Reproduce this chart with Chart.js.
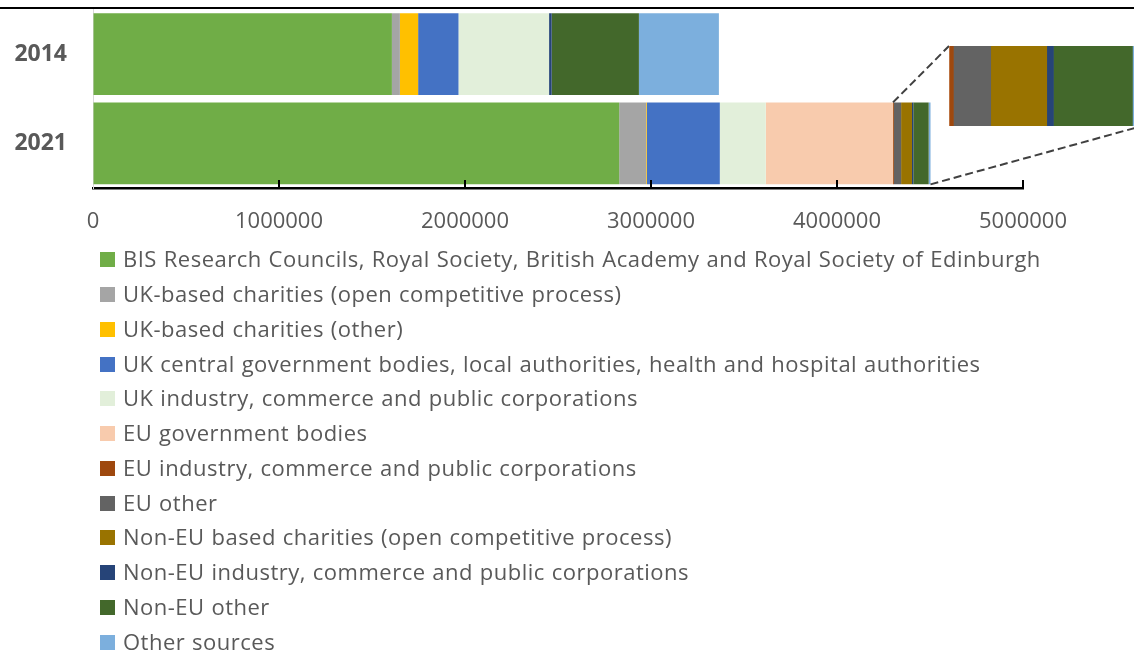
<!DOCTYPE html>
<html><head><meta charset="utf-8">
<script src="https://cdn.jsdelivr.net/npm/chart.js@4.4.1/dist/chart.umd.min.js"></script>
<style>
html,body{margin:0;padding:0;width:1134px;height:651px;overflow:hidden;background:#fff;}
#topline{position:absolute;left:0;top:7px;width:1134px;height:2px;background:#000;}
#main{position:absolute;left:0;top:0;}
#inset{position:absolute;left:949px;top:46px;}
#legend{position:absolute;left:100px;top:242.5px;font-family:'Open Sans',sans-serif;font-size:22px;letter-spacing:0.5px;word-spacing:0.6px;color:#595959;}
.row{height:34.75px;display:flex;align-items:center;white-space:nowrap;}
.sw{width:15px;height:15px;margin-right:8px;flex:none;}
.tx{position:relative;top:-1.5px;}
</style></head><body>
<div id="topline"></div>
<canvas id="main" width="1134" height="250"></canvas>
<canvas id="inset" width="193" height="80"></canvas>
<div id="legend"></div>
<script>
// ---- data ----
const categories = ['2014', '2021'];
const seriesNames = [
  'BIS Research Councils, Royal Society, British Academy and Royal Society of Edinburgh',
  'UK-based charities (open competitive process)',
  'UK-based charities (other)',
  'UK central government bodies, local authorities, health and hospital authorities',
  'UK industry, commerce and public corporations',
  'EU government bodies',
  'EU industry, commerce and public corporations',
  'EU other',
  'Non-EU based charities (open competitive process)',
  'Non-EU industry, commerce and public corporations',
  'Non-EU other',
  'Other sources'
];
const values2014 = [1607000, 43000, 98000, 217000, 487000, 0, 0, 0, 0, 14000, 469000, 430000];
const values2021 = [2829000, 145000, 4000, 392000, 247000, 684000, 4600, 39000, 58600, 7000, 82600, 10000];
const xTickValues = [0, 1000000, 2000000, 3000000, 4000000, 5000000];
const insetFirstSeries = 6; // inset magnifies the 2021 bar from "EU industry..." onward

// ---- styles ----
const seriesColors = ['#70AD47','#A5A5A5','#FFC000','#4472C4','#E2EFDA','#F8CBAD','#9E480E','#636363','#997300','#264478','#43682B','#7CAFDD'];
const FONT = "'Open Sans', sans-serif";
const INSET = {left:949, top:46, width:193, height:80};

const tailStart2021 = values2021.slice(0, insetFirstSeries).reduce((a,b)=>a+b,0);
const total2021 = values2021.reduce((a,b)=>a+b,0);

const innerTicks = {
  id:'innerTicks',
  afterDatasetsDraw(chart){
    const s = chart.scales.x, ctx = chart.ctx, b = chart.chartArea.bottom;
    ctx.save(); ctx.strokeStyle = '#000'; ctx.lineWidth = 2;
    s.ticks.forEach((t,i)=>{
      if (i === 0) return;
      const px = s.getPixelForTick(i);
      ctx.beginPath(); ctx.moveTo(px, b-8); ctx.lineTo(px, b); ctx.stroke();
    });
    ctx.restore();
  }
};
const zoomLines = {
  id:'zoomLines',
  afterDraw(chart){
    const s = chart.scales.x, ctx = chart.ctx;
    const el = chart.getDatasetMeta(0).data[1];
    const p = el.getProps(['y','height'], true);
    const top = p.y - p.height/2, bot = p.y + p.height/2;
    const x1 = s.getPixelForValue(tailStart2021), x2 = s.getPixelForValue(total2021);
    ctx.save(); ctx.strokeStyle = '#404040'; ctx.lineWidth = 2; ctx.setLineDash([8,4]);
    ctx.beginPath(); ctx.moveTo(x1, top); ctx.lineTo(INSET.left, INSET.top); ctx.stroke();
    ctx.beginPath(); ctx.moveTo(x2, bot); ctx.lineTo(INSET.left + INSET.width, INSET.top + INSET.height); ctx.stroke();
    ctx.restore();
  }
};

new Chart(document.getElementById('main'), {
  type:'bar',
  data:{
    labels:categories,
    datasets: seriesNames.map((n,i)=>({label:n, data:[values2014[i], values2021[i]], backgroundColor:seriesColors[i], borderWidth:0, barPercentage:0.918, categoryPercentage:1}))
  },
  options:{
    indexAxis:'y', responsive:false, animation:false,
    layout:{padding:{top:9.5, right:111, left:0, bottom:0}},
    plugins:{legend:{display:false}, tooltip:{enabled:false}},
    scales:{
      x:{
        stacked:true, min:0, max:5000000,
        afterFit:s=>{ s.height = 62; },
        afterBuildTicks:s=>{ s.ticks = xTickValues.map(v=>({value:v})); },
        ticks:{callback:v=>String(v), color:'#595959', font:{family:FONT, size:22}, padding:21, maxRotation:0, autoSkip:false},
        grid:{drawOnChartArea:false, drawTicks:false},
        border:{color:'#000', width:2.5}
      },
      y:{
        stacked:true,
        afterFit:s=>{ s.width = 93; },
        ticks:{color:'#595959', font:{family:FONT, size:23, weight:'bold', lineHeight:0.5}, padding:0},
        grid:{drawOnChartArea:false, drawTicks:true, tickLength:26, tickColor:'rgba(0,0,0,0)'},
        border:{color:'#d9d9d9', width:1}
      }
    }
  },
  plugins:[innerTicks, zoomLines]
});

new Chart(document.getElementById('inset'), {
  type:'bar',
  data:{
    labels:[categories[1]],
    datasets: seriesNames.map((n,i)=>({label:n, data:[values2021[i]], backgroundColor:seriesColors[i], borderWidth:0, barPercentage:1, categoryPercentage:1}))
  },
  options:{
    indexAxis:'y', responsive:false, animation:false,
    layout:{padding:0},
    plugins:{legend:{display:false}, tooltip:{enabled:false}},
    scales:{
      x:{stacked:true, display:false, min:tailStart2021, max:total2021},
      y:{stacked:true, display:false}
    }
  }
});

const legend = document.getElementById('legend');
seriesNames.forEach((n,i)=>{
  const row = document.createElement('div'); row.className = 'row';
  const sw = document.createElement('span'); sw.className = 'sw'; sw.style.background = seriesColors[i];
  const tx = document.createElement('span'); tx.className = 'tx'; tx.textContent = n;
  row.appendChild(sw); row.appendChild(tx); legend.appendChild(row);
});
</script>
</body></html>
